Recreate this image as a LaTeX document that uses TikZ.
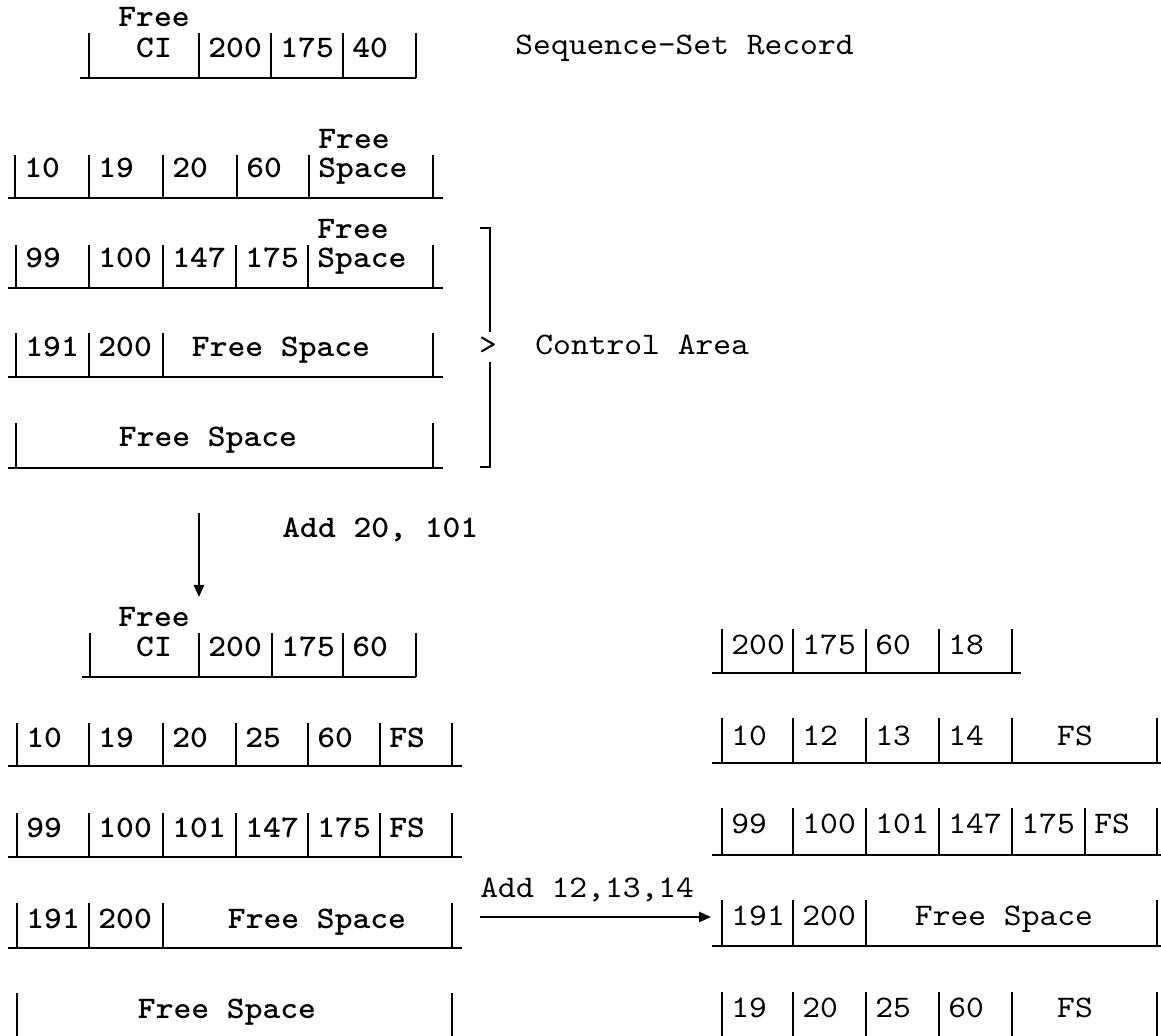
\documentclass[tikz,border=0pt]{standalone}
\usepackage{fontspec}
\newfontfamily\courreg{lmmono10-regular.otf}[FakeStretch=1.08]
\newfontfamily\courbold{lmmonolt10-bold.otf}[FakeStretch=1.08]
\usetikzlibrary{arrows.meta}
\newcommand{\recordrow}[5]{%
  \draw[recline] (#3,#2) -- (#4,#2);
  \foreach \bx in {#5} {\draw[recline] (\bx,#1) -- (\bx,#2);}
}
\newcommand{\barsonly}[3]{%
  \foreach \bx in {#3} {\draw[recline] (\bx,#1) -- (\bx,#2);}
}
\begin{document}
\begin{tikzpicture}[x=0.5pt,y=-0.5pt,
  recline/.style={line width=1.2pt},
  bt/.style={font=\courbold\fontsize{15.7pt}{14.5pt}\selectfont, inner sep=0pt, anchor=base west},
  bc/.style={bt, anchor=base},
  bml/.style={bt, align=left},
  rt/.style={font=\courreg\fontsize{15.7pt}{14.5pt}\selectfont, inner sep=0pt, anchor=base west},
  rc/.style={rt, anchor=base},
  arr/.style={line width=1.2pt, -{Triangle[length=6pt,width=5pt]}}]
\useasboundingbox (0,0) rectangle (1161,1036);
\clip (0,0) rectangle (1161,1036);
\fill[white] (0,0) rectangle (1161,1036);

% ---------- Sequence-set record (top) ----------
\recordrow{33}{78}{80}{416}{89,199,271,343,416}
\node[bc] (s1free) at (154,27) {Free};
\node[bc] (s1ci)   at (154,58) {CI};
\node[bt] (s1a) at (208,58) {200};
\node[bt] (s1b) at (280,58) {175};
\node[bt] (s1c) at (352,58) {40};
\node[rt] (ssr) at (515,55) {Sequence-Set Record};

% ---------- control area rows ----------
\recordrow{155}{198}{8}{443}{15,89,163,237,309,433}
\node[bt] (r1a) at (24,178) {10};
\node[bt] (r1b) at (98,178) {19};
\node[bt] (r1c) at (172,178) {20};
\node[bt] (r1d) at (246,178) {60};
\node[bml] (r1e) at (318,178) {Free\\Space};

\recordrow{245}{288}{8}{443}{16,89,163,236,308,433}
\node[bt] (r2a) at (25,268) {99};
\node[bt] (r2b) at (98,268) {100};
\node[bt] (r2c) at (172,268) {147};
\node[bt] (r2d) at (245,268) {175};
\node[bml] (r2e) at (317,268) {Free\\Space};

\recordrow{333}{377}{8}{443}{16,89,163,433}
\node[bt] (r3a) at (25,357) {191};
\node[bt] (r3b) at (98,357) {200};
\node[bc] (r3c) at (281,357) {Free Space};

\recordrow{423}{468}{8}{443}{16,433}
\node[bc] (r4a) at (208,447) {Free Space};

% bracket
\draw[recline] (480,228) -- (490,228) -- (490,332);
\draw[recline] (490,362) -- (490,467) -- (480,467);
\node[rc] (gt) at (488,355) {>};
\node[rt] (ca) at (535,355) {Control Area};

% ---------- first step arrow ----------
\coordinate (d1s) at (199,513);
\coordinate (d1e) at (199,597);
\draw[arr] (d1s) -- (d1e);
\node[bt] (add1) at (282,538) {Add 20, 101};

% ---------- after first add (left) ----------
\recordrow{633}{677}{82}{416}{90,199,272,343,416}
\node[bc] (s2free) at (154,627) {Free};
\node[bc] (s2ci)   at (154,657) {CI};
\node[bt] (s2a) at (208,657) {200};
\node[bt] (s2b) at (281,657) {175};
\node[bt] (s2c) at (352,657) {60};

\recordrow{723}{766}{8}{462}{17,89,163,236,308,380,452}
\node[bt] (l1a) at (26,747) {10};
\node[bt] (l1b) at (98,747) {19};
\node[bt] (l1c) at (172,747) {20};
\node[bt] (l1d) at (245,747) {25};
\node[bt] (l1e) at (317,747) {60};
\node[bt] (l1f) at (389,747) {FS};

\recordrow{813}{857}{8}{462}{17,89,163,236,308,380,452}
\node[bt] (l2a) at (26,837) {99};
\node[bt] (l2b) at (98,837) {100};
\node[bt] (l2c) at (172,837) {101};
\node[bt] (l2d) at (245,837) {147};
\node[bt] (l2e) at (317,837) {175};
\node[bt] (l2f) at (389,837) {FS};

\recordrow{903}{948}{8}{462}{17,89,163,452}
\node[bt] (l3a) at (26,928) {191};
\node[bt] (l3b) at (98,928) {200};
\node[bc] (l3c) at (317,928) {Free Space};

\barsonly{993}{1045}{17,452}
\node[bc] (l4a) at (227,1018) {Free Space};

% ---------- second step arrow ----------
\coordinate (h1s) at (480,917);
\coordinate (h1e) at (711,917);
\draw[arr] (h1s) -- (h1e);
\node[rt] (add2) at (480,897) {Add 12,13,14};

% ---------- after second add (right) ----------
\recordrow{629}{673}{712}{1021}{722,793,866,939,1012}
\node[rt] (s3a) at (731,654) {200};
\node[rt] (s3b) at (802,654) {175};
\node[rt] (s3c) at (875,654) {60};
\node[rt] (s3d) at (948,654) {18};

\recordrow{718}{763}{712}{1165}{722,793,866,939,1012,1157}
\node[rt] (q1a) at (731,745) {10};
\node[rt] (q1b) at (802,745) {12};
\node[rt] (q1c) at (875,745) {13};
\node[rt] (q1d) at (948,745) {14};
\node[rc] (q1e) at (1075,745) {FS};

\recordrow{808}{855}{712}{1165}{722,793,866,939,1012,1085,1157}
\node[rt] (q2a) at (731,833) {99};
\node[rt] (q2b) at (802,833) {100};
\node[rt] (q2c) at (875,833) {101};
\node[rt] (q2d) at (948,833) {147};
\node[rt] (q2e) at (1021,833) {175};
\node[rt] (q2f) at (1094,833) {FS};

\recordrow{900}{946}{712}{1165}{722,793,866,1157}
\node[rt] (q3a) at (731,925) {191};
\node[rt] (q3b) at (802,925) {200};
\node[rc] (q3c) at (1004,925) {Free Space};

\barsonly{992}{1045}{722,793,866,939,1012,1157}
\node[rt] (q4a) at (731,1017) {19};
\node[rt] (q4b) at (802,1017) {20};
\node[rt] (q4c) at (875,1017) {25};
\node[rt] (q4d) at (948,1017) {60};
\node[rc] (q4e) at (1075,1017) {FS};
\end{tikzpicture}
\end{document}
